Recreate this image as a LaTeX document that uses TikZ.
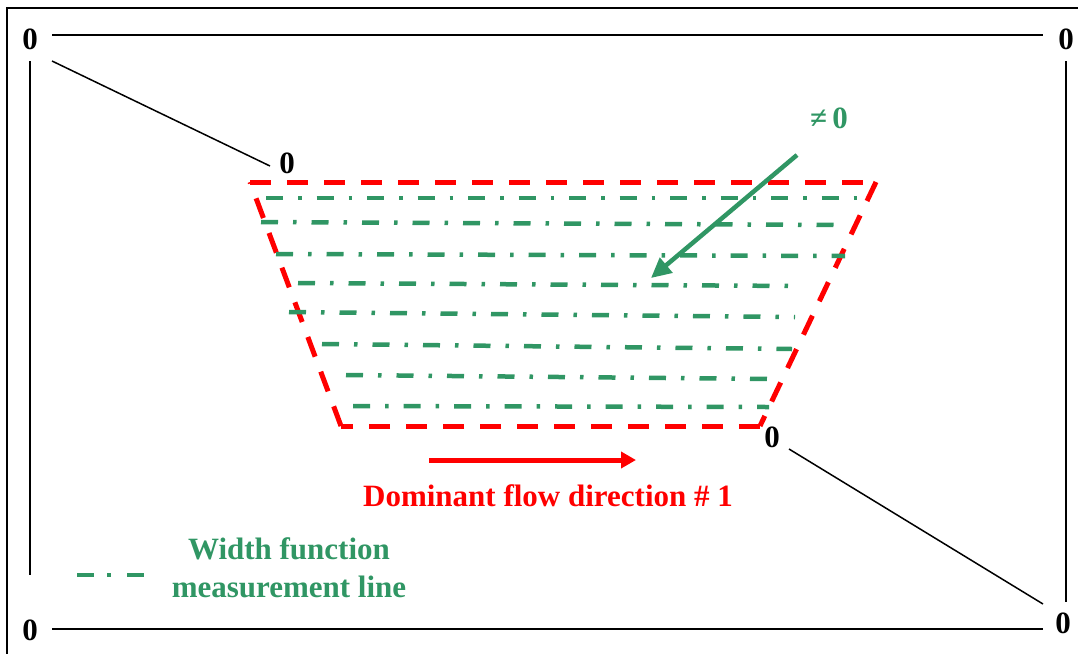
\documentclass[tikz,border=0pt]{standalone}
\usepackage{fontspec}
\setmainfont{Liberation Serif}
\usetikzlibrary{arrows.meta}
\definecolor{fgreen}{RGB}{48,150,100}
\definecolor{fred}{RGB}{255,0,0}
\tikzset{
  zero/.style={font=\bfseries\fontsize{31}{32}\selectfont, inner sep=0pt},
  thin line/.style={draw=black, line width=2pt},
  diag line/.style={draw=black, line width=1.5pt},
  redbound/.style={draw=fred, line width=5pt, dash pattern=on 21pt off 16pt},
  measline/.style={draw=fgreen, line width=4.5pt, dash pattern=on 17pt off 15pt on 3.5pt off 15pt},
  label/.style={font=\bfseries\fontsize{31}{38}\selectfont, inner sep=0pt, align=center}
}
\begin{document}
\begin{tikzpicture}[x=1pt,y=-1pt]
\useasboundingbox (0,0) rectangle (1078,654);
% outer frame (right and bottom edges fall outside the picture)
\draw[line width=2pt] (1078,8) -- (7,8) -- (7,654);
% corner zeros
\node[zero] (ztl) at (30,39) {0};
\node[zero] (ztr) at (1066,39) {0};
\node[zero] (zbl) at (30,630) {0};
\node[zero] (zbr) at (1063,623) {0};
\node[zero] (zt) at (287,163) {0};
\node[zero] (zb) at (772,437) {0};
% line ends
\coordinate (tl1) at (52,35); \coordinate (tr1) at (1043,35);
\coordinate (tl2) at (30,61); \coordinate (bl2) at (30,575);
\coordinate (bl1) at (52,629); \coordinate (br1) at (1043,629);
\coordinate (tr2) at (1066,61); \coordinate (br2) at (1066,602);
\coordinate (d1a) at (52,61); \coordinate (d1b) at (270,166);
\coordinate (d2a) at (789,449); \coordinate (d2b) at (1043,604);
\draw[thin line] (tl1) -- (tr1);
\draw[thin line] (bl1) -- (br1);
\draw[thin line] (tl2) -- (bl2);
\draw[thin line] (tr2) -- (br2);
\draw[diag line] (d1a) -- (d1b);
\draw[diag line] (d2a) -- (d2b);
% trapezoid
\coordinate (p1) at (250,182); \coordinate (p2) at (876,182);
\coordinate (p3) at (760,426); \coordinate (p4) at (341,426);
\draw[redbound] (p4) -- (p1);
\draw[redbound] (p1) -- (p2);
\draw[redbound] (p2) -- (p3);
\draw[redbound] (p3) -- (p4);
% measurement lines
\draw[measline] (266,198) -- (860,198);
\draw[measline] (261,222) -- (847,225);
\draw[measline] (276,254) -- (845,256);
\draw[measline] (298,283) -- (800,286);
\draw[measline] (289,312) -- (795,317);
\draw[measline] (322,344) -- (792,349);
\draw[measline] (346,375) -- (773,379);
\draw[measline] (353,406) -- (769,407);
% not-zero arrow
\node[label, text=fgreen] (nz) at (829,118) {\char"2260\,0};
\coordinate (ga) at (797,155); \coordinate (gb) at (651,278);
\draw[fgreen, line width=4.5pt, -{Triangle[length=20pt,width=19pt]}] (ga) -- (gb);
% flow direction
\coordinate (ra) at (429,460); \coordinate (rb) at (636,460);
\draw[fred, line width=5pt, -{Triangle[length=15pt,width=16pt]}] (ra) -- (rb);
\node[label, text=fred] (flow) at (548,496) {Dominant flow direction \# 1};
% legend
\coordinate (la) at (77,575); \coordinate (lb) at (146,575);
\draw[draw=fgreen, line width=4.5pt, dash pattern=on 17pt off 13pt on 4pt off 16pt] (la) -- (lb);
\node[label, text=fgreen] (leg) at (289,568) {Width function\\measurement line};
\end{tikzpicture}
\end{document}
